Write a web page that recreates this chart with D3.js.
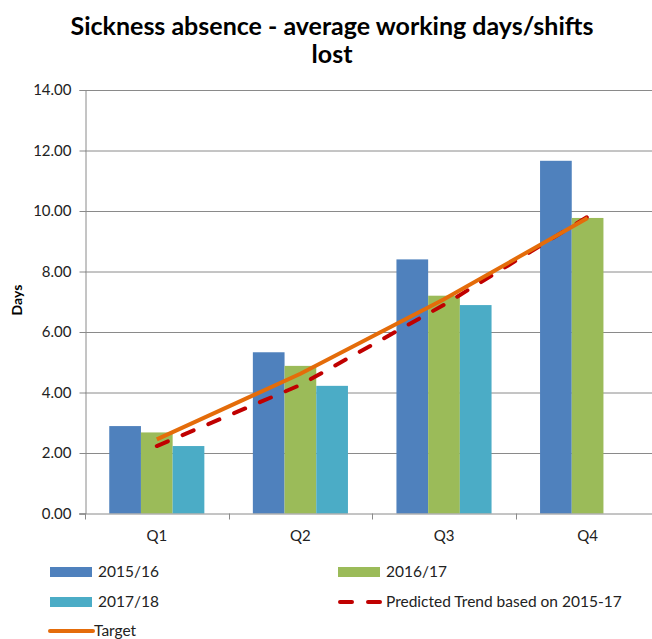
<!DOCTYPE html>
<html>
<head>
<meta charset="utf-8">
<script src="https://cdn.jsdelivr.net/npm/d3@7"></script>
<style>
  body { margin: 0; background: #fff; }
  svg { display: block; font-family: Lato, "Open Sans", sans-serif; }
</style>
</head>
<body>
<div id="container"><svg></svg></div>
<script>
let width = 652;
let height = 639;

// data
let quarters = ["Q1", "Q2", "Q3", "Q4"];
let series = ["2015/16", "2016/17", "2017/18"];
let v2015 = [2.89, 5.33, 8.40, 11.66];
let v2016 = [2.68, 4.88, 7.20, 9.77];
let v2017 = [2.23, 4.22, 6.89, null];
let predicted = [2.23, 4.25, 6.90, 9.81];
let target = [2.45, 4.62, 7.08, 9.77];
let yTicks = [0, 2, 4, 6, 8, 10, 12, 14];

let colors = {"2015/16": "#4F81BD", "2016/17": "#9BBB59", "2017/18": "#4BACC6"};
let gridColor = "#8a8a8a";

function draw_chart() {
    let svg = d3.select('#container').select('svg')
        .attr('width', width)
        .attr('height', height);

    let x = d3.scaleBand().domain(quarters).range([85, 659.4]);
    let x1 = d3.scaleBand().domain(series).range([0, x.bandwidth()]).paddingOuter(0.765);
    let y = d3.scaleLinear().domain([0, 14]).range([513.5, 90]);

    // title
    let title = svg.append("text")
        .attr("text-anchor", "middle")
        .attr("font-weight", "bold")
        .attr("font-size", 25)
        .attr("fill", "#000");
    title.append("tspan").attr("x", 332).attr("y", 35).text("Sickness absence - average working days/shifts");
    title.append("tspan").attr("x", 332).attr("y", 63).text("lost");

    // gridlines
    svg.append("g")
        .selectAll("line")
        .data(yTicks.filter(d => d > 0))
        .join("line")
        .attr("x1", 85).attr("x2", 660)
        .attr("y1", d => y(d) + 0.5).attr("y2", d => y(d) + 0.5)
        .attr("stroke", gridColor).attr("stroke-width", 1);

    // y axis
    let yAxis = svg.append("g")
        .attr("transform", "translate(85.5,0)")
        .call(d3.axisLeft(y).tickValues(yTicks).tickFormat(d3.format(".2f")).tickSize(6).tickPadding(8));
    yAxis.select(".domain").attr("stroke", gridColor);
    yAxis.selectAll(".tick line").attr("stroke", gridColor);
    yAxis.selectAll(".tick text").attr("font-size", 15).attr("fill", "#222").attr("font-family", "Lato, sans-serif");

    // bars
    let rows = quarters.map((q, i) => ({q: q, vals: [v2015[i], v2016[i], v2017[i]]}));
    svg.append("g")
        .selectAll("g")
        .data(rows)
        .join("g")
        .attr("transform", d => `translate(${x(d.q)},0)`)
        .selectAll("rect")
        .data(d => d.vals.map((v, j) => ({s: series[j], v: v})).filter(e => e.v != null))
        .join("rect")
        .attr("x", d => x1(d.s))
        .attr("width", x1.bandwidth())
        .attr("y", d => y(d.v))
        .attr("height", d => y(0) - y(d.v))
        .attr("fill", d => colors[d.s]);

    // x axis
    let xAxis = svg.append("g")
        .attr("transform", `translate(0,${y(0) + 0.5})`)
        .call(d3.axisBottom(x).tickSize(0).tickPadding(16));
    xAxis.select(".domain").remove();
    xAxis.selectAll(".tick text").attr("font-size", 15).attr("fill", "#222").attr("font-family", "Lato, sans-serif");
    svg.append("line")
        .attr("x1", 79).attr("x2", 660)
        .attr("y1", y(0) + 0.5).attr("y2", y(0) + 0.5)
        .attr("stroke", gridColor);
    svg.append("g")
        .selectAll("line")
        .data(quarters)
        .join("line")
        .attr("x1", d => Math.round(x(d)) + 0.5).attr("x2", d => Math.round(x(d)) + 0.5)
        .attr("y1", y(0)).attr("y2", y(0) + 6)
        .attr("stroke", gridColor);

    // lines
    let line = d3.line()
        .x((d, i) => x(quarters[i]) + x.bandwidth() / 2)
        .y(d => y(d));

    svg.append("path")
        .datum(predicted)
        .attr("d", line)
        .attr("fill", "none")
        .attr("stroke", "#C00000")
        .attr("stroke-width", 4)
        .attr("stroke-dasharray", "12,16")
        .attr("stroke-linecap", "round");

    svg.append("path")
        .datum(target)
        .attr("d", line)
        .attr("fill", "none")
        .attr("stroke", "#E46C0A")
        .attr("stroke-width", 4);

    // y label
    svg.append("text")
        .attr("transform", "translate(22,300) rotate(-90)")
        .attr("text-anchor", "middle")
        .attr("font-weight", "bold")
        .attr("font-size", 14)
        .text("Days");

    // legend
    let legend = [
        {name: "2015/16", type: "rect", x: 50, y: 572},
        {name: "2016/17", type: "rect", x: 338, y: 572},
        {name: "2017/18", type: "rect", x: 50, y: 602},
        {name: "Predicted Trend based on 2015-17", type: "dash", x: 338, y: 602},
        {name: "Target", type: "line", x: 50, y: 631}
    ];
    let lg = svg.append("g")
        .selectAll("g")
        .data(legend)
        .join("g")
        .attr("transform", d => `translate(${d.x},${d.y})`);
    lg.filter(d => d.type == "rect").append("rect")
        .attr("x", 0).attr("y", -5).attr("width", 42).attr("height", 10)
        .attr("fill", d => colors[d.name]);
    lg.filter(d => d.type == "dash").append("line")
        .attr("x1", 2).attr("x2", 42).attr("y1", 0).attr("y2", 0)
        .attr("stroke", "#C00000").attr("stroke-width", 4)
        .attr("stroke-dasharray", "12,16").attr("stroke-linecap", "round");
    lg.filter(d => d.type == "line").append("line")
        .attr("x1", 0).attr("x2", 43).attr("y1", 0).attr("y2", 0)
        .attr("stroke", "#E46C0A").attr("stroke-width", 4)
        .attr("stroke-linecap", "round");
    lg.append("text")
        .attr("x", d => d.type == "line" ? 44 : 48)
        .attr("y", 0)
        .attr("dy", "0.35em")
        .attr("font-size", 15.5)
        .attr("fill", "#222")
        .text(d => d.name);
}

draw_chart();
</script>
</body>
</html>
